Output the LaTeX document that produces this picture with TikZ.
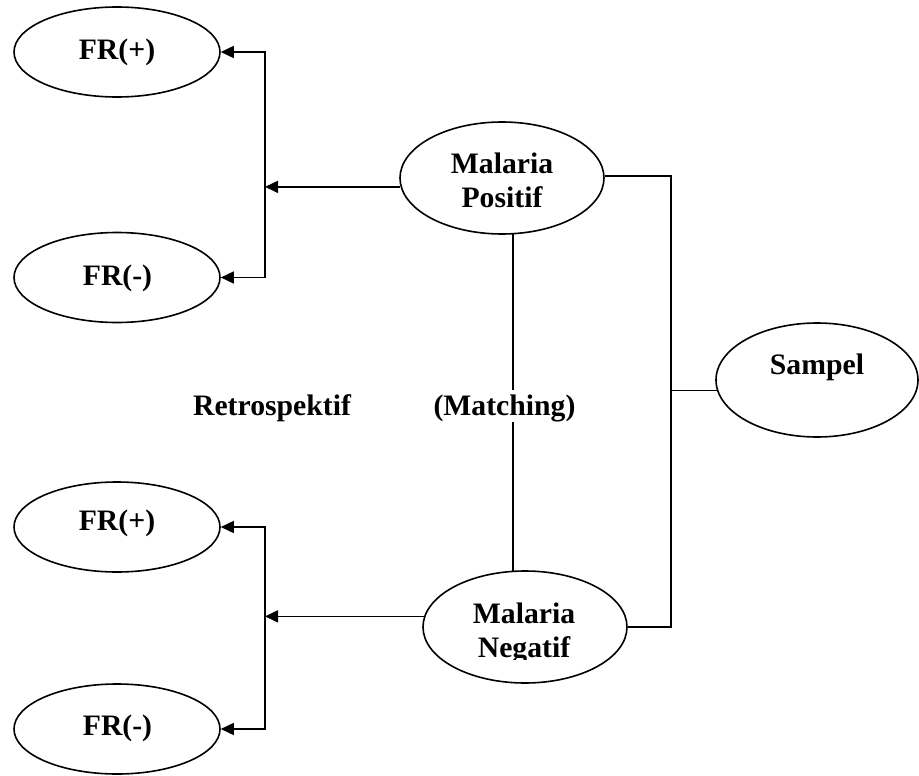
\documentclass[tikz,border=0pt]{standalone}
\usepackage{fontspec}
\setmainfont{Liberation Serif}
\usetikzlibrary{arrows.meta,shapes.geometric}
\begin{document}
\begin{tikzpicture}[x=1pt,y=-1pt,
  oval/.style={draw, line width=1.6pt, shape=ellipse, inner sep=0pt},
  frov/.style={oval, minimum width=206pt, minimum height=90pt},
  mov/.style={oval, minimum width=204pt, minimum height=112pt},
  sov/.style={oval, minimum width=202pt, minimum height=114pt},
  txt/.style={font=\fontsize{29.7pt}{34pt}\selectfont\bfseries, inner sep=0pt, align=center},
  conn/.style={line width=1.6pt},
  arr/.style={conn, -{Triangle[length=13pt,width=12pt]}},
  arrtwo/.style={conn, {Triangle[length=13pt,width=12pt]}-{Triangle[length=13pt,width=12pt]}}]
\useasboundingbox (0,0) rectangle (919,776);

% ellipses
\node[frov] (frtp) at (117,52) {};
\node[frov] (frtm) at (117,277.5) {};
\node[mov] (mp) at (502,178) {};
\node[sov] (smp) at (817,380) {};
\node[frov] (frbp) at (117,527) {};
\node[frov] (frbm) at (117,729) {};
\node[mov] (mn) at (525,627) {};

% texts
\node[txt, anchor=base] (tfrtp) at (117,60) {FR(+)};
\node[txt, anchor=base] (tfrtm) at (117.5,285) {FR(-)};
\node[txt, anchor=base] (tfrbp) at (117,530) {FR(+)};
\node[txt, anchor=base] (tfrbm) at (117.5,735) {FR(-)};
\node[txt] (tmp) at (502,180) {Malaria\\Positif};
\begin{scope}
  \clip (400,590) rectangle (650,659);
  \node[txt] (tmn) at (524,633) {Malaria\\Negatif};
\end{scope}
\node[txt, anchor=base] (tsmp) at (817,374) {Sampel};
\node[txt, anchor=base] (tret) at (272,415) {Retrospektif};
\node[txt, anchor=base] (tmat) at (504.5,415) {(Matching)};

% connectors
\coordinate (jt) at (265,165);
\coordinate (jb) at (265,620);
\draw[arrtwo] (frtp.east) -| (jt) |- (frtm.east);
\draw[arr] (mp.185) -- (mp.185 -| jt);
\draw[arrtwo] (frbp.east) -| (jb) |- (frbm.east);
\draw[arr] (mn.174) -- (mn.174 -| jb);

\coordinate (rc) at (671,390);
\draw[conn] (mp.1) -| (rc) |- (mn.east);
\draw[conn] (smp.186) -- (smp.186 -| rc);

\coordinate (m1) at (513,390);
\coordinate (m2) at (513,422);
\draw[conn] (mp.281) -- (mp.281 |- m1);
\draw[conn] (m2 -| mn.102) -- (mn.102);
\end{tikzpicture}
\end{document}
